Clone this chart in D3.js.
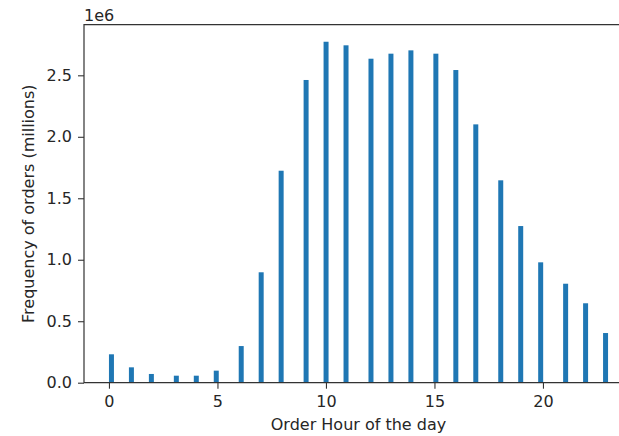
<!DOCTYPE html>
<html>
<head>
<meta charset="utf-8">
<script src="https://cdn.jsdelivr.net/npm/d3@7"></script>
<style>
  body { margin: 0; background: #fff; }
  text { font-family: "DejaVu Sans", sans-serif; fill: #262626; }
</style>
</head>
<body>
<svg id="chart"></svg>
<script>
// hour of the day and the number of orders placed in it
const hours = [0, 1, 2, 3, 4, 5, 6, 7, 8, 9, 10, 11, 12, 13, 14, 15, 16, 17, 18, 19, 20, 21, 22, 23];
const orders = [231000, 125000, 71000, 57000, 57000, 98000, 298000, 898000, 1724000, 2462000,
  2773000, 2744000, 2635000, 2676000, 2703000, 2676000, 2543000, 2101000,
  1646000, 1274000, 979000, 805000, 646000, 404000];
const yTicks = [0, 0.5e6, 1e6, 1.5e6, 2e6, 2.5e6];
const xTicks = [0, 5, 10, 15, 20];
const nBins = 100;

const size = {w: 619, h: 436};
const margin = {t: 24.7, l: 84, b: 53.3};
const fontSize = '16px';
const svg = d3.select('svg#chart')
    .attr('width', size.w)
    .attr('height', size.h);

// histogram bins like matplotlib: 100 equal bins over [min, max]
const hMin = d3.min(hours), hMax = d3.max(hours);
const binW = (hMax - hMin) / nBins;
const bars = hours.map((h, i) => {
    const k = Math.min(Math.floor((h - hMin) / binW), nBins - 1);
    return {x0: hMin + k * binW, x1: hMin + (k + 1) * binW, v: orders[i]};
});

// axis limits with 5% padding on x, top padding on y
const pad = (hMax - hMin) * 0.05;
const unit = 21.7;
const plotW = (hMax - hMin + 2 * pad) * unit;
const x = d3.scaleLinear()
    .domain([hMin - pad, hMax + pad])
    .range([margin.l, margin.l + plotW]);
const y = d3.scaleLinear()
    .domain([0, d3.max(orders) * 1.05])
    .range([size.h - margin.b, margin.t]);

const g = svg.append('g');

g.selectAll('rect.bar')
    .data(bars)
    .join('rect')
    .classed('bar', true)
    .attr('x', d => x(d.x0))
    .attr('y', d => y(d.v))
    .attr('width', d => x(d.x1) - x(d.x0))
    .attr('height', d => y(0) - y(d.v))
    .attr('fill', '#1f77b4');

// axes
const xAxis = d3.axisBottom(x).tickValues(xTicks).tickFormat(d3.format('d'))
    .tickSize(6).tickPadding(6.8);
const yAxis = d3.axisLeft(y).tickValues(yTicks).tickFormat(d => d3.format('.1f')(d / 1e6))
    .tickSize(6).tickPadding(6);

const gx = g.append('g')
    .attr('transform', `translate(0, ${y(0)})`)
    .call(xAxis);
const gy = g.append('g')
    .attr('transform', `translate(${x.range()[0]}, 0)`)
    .call(yAxis);

[gx, gy].forEach(a => {
    a.select('.domain').remove();
    a.selectAll('.tick line').attr('stroke', '#333').attr('stroke-width', 1.1);
    a.selectAll('.tick text').style('font-size', fontSize).style('font-family', '"DejaVu Sans", sans-serif').attr('fill', '#262626');
});

// spines
const [xl, xr] = x.range();
const [yb, yt] = y.range();
g.append('path')
    .attr('d', `M${xl},${yt}H${xr}V${yb}H${xl}Z`)
    .attr('fill', 'none')
    .attr('stroke', '#333')
    .attr('stroke-width', 1.2);

// labels
svg.append('text')
    .attr('x', (xl + xr) / 2)
    .attr('y', 430)
    .attr('text-anchor', 'middle')
    .style('font-size', fontSize)
    .text('Order Hour of the day');

svg.append('text')
    .attr('transform', `translate(33.5, ${(yt + yb) / 2}) rotate(-90)`)
    .attr('text-anchor', 'middle')
    .style('font-size', fontSize)
    .text('Frequency of orders (millions)');

svg.append('text')
    .attr('x', xl)
    .attr('y', 20.5)
    .style('font-size', fontSize)
    .text('1e6');
</script>
</body>
</html>
